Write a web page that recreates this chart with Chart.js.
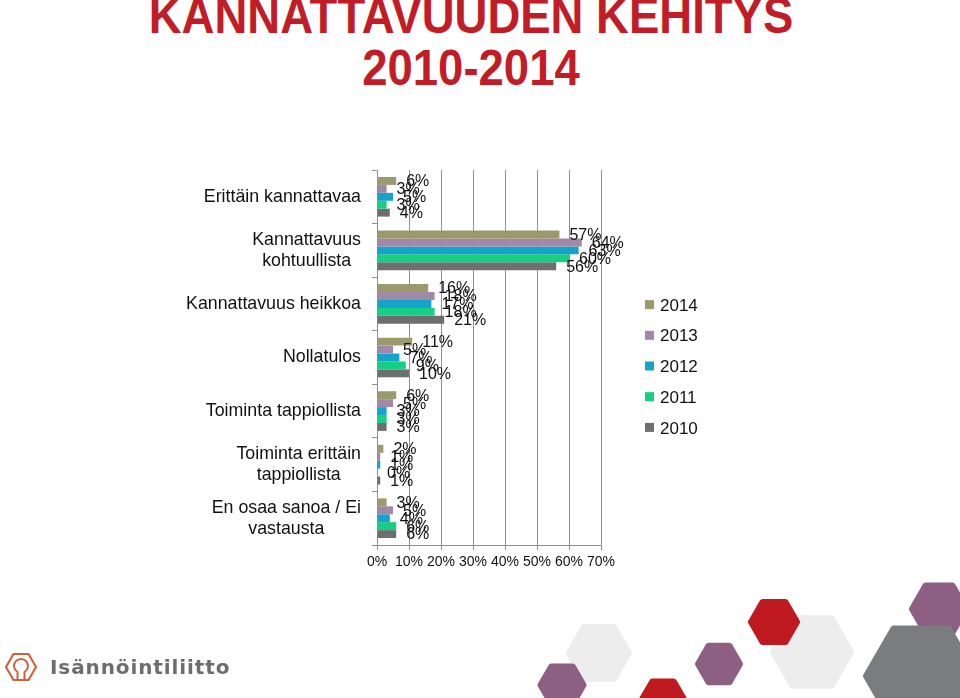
<!DOCTYPE html>
<html>
<head>
<meta charset="utf-8">
<script src="https://cdn.jsdelivr.net/npm/chart.js@4.4.1/dist/chart.umd.min.js"></script>
<style>
  html, body { margin: 0; padding: 0; background: #fff; }
  #page { position: relative; width: 960px; height: 698px; overflow: hidden; }
  #title {
    position: absolute; left: 0; top: -10px; width: 942px;
    text-align: center; color: #c21d27;
    font: bold 50px/52px "Liberation Sans Narrow", "Arial Narrow", "Liberation Sans", sans-serif;
    transform: scaleX(0.91); transform-origin: 471px 0;
  }
  #chart { position: absolute; left: 0; top: 0; }
  #deco { position: absolute; left: 0; top: 0; }
  #logo-text {
    position: absolute; left: 50px; top: 655px;
    font: bold 20px "DejaVu Sans", sans-serif; color: #6d6d6d; letter-spacing: 0.9px;
  }
</style>
</head>
<body>
<div id="page">
  <svg id="deco" width="960" height="698"></svg>
  <div id="title">KANNATTAVUUDEN KEHITYS<br>2010-2014</div>
  <canvas id="chart" width="960" height="698"></canvas>
  <div id="logo-text">Isännöintiliitto</div>
</div>

<script>
// Data: answer categories, survey years and shares (%) per year.
const categories = [
  ["Erittäin kannattavaa"],
  ["Kannattavuus", "kohtuullista"],
  ["Kannattavuus heikkoa"],
  ["Nollatulos"],
  ["Toiminta tappiollista"],
  ["Toiminta erittäin", "tappiollista"],
  ["En osaa sanoa / Ei", "vastausta"],
];
const years = ["2014", "2013", "2012", "2011", "2010"];

const values2014 = [6, 57, 16, 11, 6, 2, 3];
const values2013 = [3, 64, 18, 5, 5, 1, 5];
const values2012 = [5, 63, 17, 7, 3, 1, 4];
const values2011 = [3, 60, 18, 9, 3, 0, 6];
const values2010 = [4, 56, 21, 10, 3, 1, 6];

const xTicks = [0, 10, 20, 30, 40, 50, 60, 70];

const yearColors = ["#9b9a6c", "#a188a6", "#14a3cb", "#16cf82", "#6e6e6e"];
const seriesValues = [values2014, values2013, values2012, values2011, values2010];

const FONT = "'Liberation Sans', Arial, sans-serif";


// Decorative hexagons and logo mark at the bottom of the slide.
function hexPoints(cx, cy, w) {
  const r = w / 2, h = r * Math.sqrt(3) / 2;
  return [
    [cx - r, cy], [cx - r / 2, cy - h], [cx + r / 2, cy - h],
    [cx + r, cy], [cx + r / 2, cy + h], [cx - r / 2, cy + h],
  ].map(function (p) { return p[0].toFixed(1) + "," + p[1].toFixed(1); }).join(" ");
}

const hexes = [
  [599, 653, 66, "#ededed"],
  [812, 652, 84, "#ededed"],
  [562, 685, 49, "#8d5f83"],
  [663, 700, 49, "#bf1a1f"],
  [719, 664, 48, "#8d5f83"],
  [774, 622, 52, "#bf1a1f"],
  [939, 609, 60, "#8d5f83"],
  [921, 676, 116, "#7b7c7e"],
];

const svg = document.getElementById("deco");
let svgHtml = hexes.map(function (hx) {
  return `<polygon points="${hexPoints(hx[0], hx[1], hx[2] - 6)}" fill="${hx[3]}" stroke="${hx[3]}" stroke-width="6" stroke-linejoin="round"/>`;
}).join("");
//logo: hexagon outline with keyhole
svgHtml += `<polygon points="${hexPoints(21, 667, 30)}" fill="none" stroke="#c6653f" stroke-width="2.2" stroke-linejoin="round"/>`;
svgHtml += `<path d="M17.5 680 L17.5 672 A7 7 0 1 1 24.5 672 L24.5 680" fill="none" stroke="#c6653f" stroke-width="2"/>`;
svg.innerHTML = svgHtml;


// Plugins: value labels, category labels (right-aligned blocks, centred lines) and side legend.
const valueLabels = {
  id: "valueLabels",
  afterDatasetsDraw(chart) {
    const ctx = chart.ctx;
    ctx.save();
    ctx.font = "16px " + FONT;
    ctx.fillStyle = "#111";
    ctx.textAlign = "left";
    ctx.textBaseline = "middle";
    chart.data.datasets.forEach(function (ds, i) {
      chart.getDatasetMeta(i).data.forEach(function (bar, j) {
        ctx.fillText(ds.data[j] + "%", bar.x + 10, bar.y + 1);
      });
    });
    ctx.restore();
  },
};

const categoryLabels = {
  id: "categoryLabels",
  afterDraw(chart) {
    const ctx   = chart.ctx;
    const yAx   = chart.scales.y;
    const right = yAx.right - 16;
    const lineH = 21;
    ctx.save();
    ctx.font = "17.8px " + FONT;
    ctx.fillStyle = "#111";
    ctx.textAlign = "center";
    ctx.textBaseline = "middle";
    chart.data.labels.forEach(function (lines, i) {
      const widest = Math.max.apply(null, lines.map(function (l) { return ctx.measureText(l).width; }));
      const cx = right - widest / 2;
      const cy = yAx.getPixelForTick(i);
      lines.forEach(function (l, k) {
        ctx.fillText(l, cx, cy + (k - (lines.length - 1) / 2) * lineH);
      });
    });
    ctx.restore();
  },
};

const sideLegend = {
  id: "sideLegend",
  afterDraw(chart) {
    const ctx  = chart.ctx;
    const area = chart.chartArea;
    const rowH = 30.7;
    const n    = chart.data.datasets.length;
    const top  = (area.top + area.bottom) / 2 + 9 - rowH * (n - 1) / 2;
    ctx.save();
    ctx.font = "17px " + FONT;
    ctx.textBaseline = "middle";
    chart.data.datasets.forEach(function (ds, i) {
      const y = top + i * rowH;
      ctx.fillStyle = ds.backgroundColor;
      ctx.fillRect(area.right + 44, y - 5, 9, 9);
      ctx.fillStyle = "#111";
      ctx.fillText(ds.label, area.right + 59, y + 1);
    });
    ctx.restore();
  },
};


// Chart
new Chart(document.getElementById("chart"), {
  type: "bar",
  data: {
    labels: categories,
    datasets: years.map(function (yr, i) {
      return {
        label:              yr,
        data:               seriesValues[i],
        backgroundColor:    yearColors[i],
        barPercentage:      1.0,
        categoryPercentage: 0.74,
      };
    }),
  },
  options: {
    indexAxis:  "y",
    responsive: false,
    animation:  false,
    devicePixelRatio: 1,
    layout: { padding: { top: 170, right: 359, left: 0, bottom: 0 } },
    plugins: {
      legend:  { display: false },
      tooltip: { enabled: false },
    },
    scales: {
      x: {
        min: 0, max: 70,
        afterBuildTicks: function (scale) {
          scale.ticks = xTicks.map(function (v) { return { value: v }; });
        },
        afterFit: function (scale) { scale.height = 153; },
        grid:   { color: "#8f8f8f", lineWidth: 1, tickLength: 5 },
        border: { color: "#8f8f8f" },
        ticks: {
          padding: 4,
          color: "#111",
          autoSkip: false,
          maxRotation: 0,
          minRotation: 0,
          font: { family: FONT, size: 14 },
          callback: function (v) { return v + "%"; },
        },
      },
      y: {
        afterFit: function (scale) { scale.width = 377; },
        grid:   { drawOnChartArea: false, color: "#8f8f8f", tickLength: 5 },
        border: { color: "#8f8f8f" },
        ticks:  { display: false },
      },
    },
  },
  plugins: [valueLabels, categoryLabels, sideLegend],
});
</script>
</body>
</html>
